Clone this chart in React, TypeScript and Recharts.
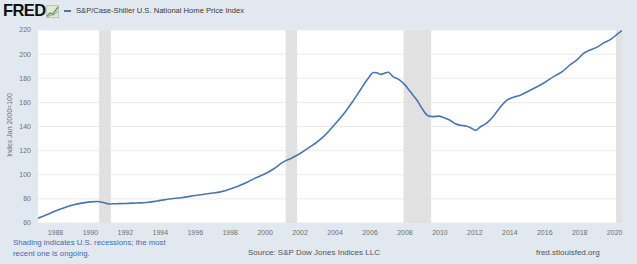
import React from 'react';
import { LineChart, Line, XAxis, YAxis, CartesianGrid, ReferenceArea } from 'recharts';

// year (decimal) and index value
const years = [
  1987.0, 1987.5, 1988.0, 1988.5, 1989.0, 1989.5, 1990.0, 1990.4, 1990.75, 1991.1,
  1991.5, 1992.0, 1992.6, 1993.2, 1993.8, 1994.5, 1995.2, 1996.0, 1996.8, 1997.5,
  1998.0, 1998.4, 1999.0, 1999.4, 2000.0, 2000.5, 2001.0, 2001.5, 2002.0, 2002.5,
  2003.0, 2003.4, 2004.0, 2004.6, 2005.0, 2005.5, 2005.9, 2006.2, 2006.4, 2006.6,
  2006.9, 2007.05, 2007.3, 2007.7, 2008.0, 2008.3, 2008.7, 2009.0, 2009.3, 2009.6,
  2009.9, 2010.2, 2010.35, 2010.6, 2010.85, 2011.2, 2011.5, 2011.8, 2012.05, 2012.3,
  2012.65, 2013.0, 2013.4, 2013.8, 2014.2, 2014.6, 2015.0, 2015.5, 2016.0, 2016.5,
  2017.0, 2017.45, 2017.9, 2018.2, 2018.6, 2019.0, 2019.4, 2019.8, 2020.1, 2020.42,
];
const index = [
  64, 66.8, 70, 72.6, 75, 76.5, 77.5, 77.8, 77, 75.8,
  76, 76.2, 76.6, 77, 78.2, 79.9, 81, 82.8, 84.5, 86,
  88.2, 90.3, 94, 97, 100.8, 105, 110.3, 113.7, 117.6, 122.5,
  127.5, 132.5, 142, 152.5, 160.5, 171.5, 180, 184.8, 184.6, 183.2,
  184.5, 185, 181.5, 178.5, 174.5, 169, 161.5, 154.5, 149.2, 148.2,
  148.6, 147.5, 146.6, 145, 142.5, 141, 140.4, 138.6, 136.8, 139.5,
  142.5, 147.5, 155, 161.5, 164.3, 166, 168.8, 172.5, 176.5, 181.3,
  185.5, 191, 196, 200.5, 203.5, 205.8, 209.5, 212.5, 216, 219.5,
];

const recessions = [
  [1990.5, 1991.17],
  [2001.17, 2001.83],
  [2007.92, 2009.5],
  [2020.08, 2020.42],
];

const xTicks = [1988, 1990, 1992, 1994, 1996, 1998, 2000, 2002, 2004, 2006, 2008, 2010, 2012, 2014, 2016, 2018, 2020];
const yTicks = [60, 80, 100, 120, 140, 160, 180, 200, 220];

const data = years.map((t, i) => ({ t, v: index[i] }));

const font = '"Liberation Sans", Arial, sans-serif';

export default function App() {
  return (
    <div style={{ position: 'absolute', left: 0, top: 0, width: 637, height: 264, background: '#e1e8ef', fontFamily: font }}>
      <div style={{ position: 'absolute', left: 3, top: 1, fontSize: 16.5, fontWeight: 'bold', color: '#111', letterSpacing: -0.6 }}>FRED</div>
      <svg style={{ position: 'absolute', left: 46, top: 5 }} width={13} height={13}>
        <rect x={0.5} y={0.5} width={12} height={12} fill="#dfe9d6" stroke="#b9c9b0" />
        <polyline points="1,11 4,8 7,9 12,2" fill="none" stroke="#6f9a4c" strokeWidth={1.4} />
        <polyline points="1,12 5,10 8,10 12,6" fill="none" stroke="#7e9cc4" strokeWidth={1} />
      </svg>
      <div style={{ position: 'absolute', left: 64, top: 10, width: 7, height: 1.5, background: '#4a76ae' }} />
      <div style={{ position: 'absolute', left: 76, top: 6, fontSize: 7.6, color: '#3a3a3a' }}>
        S&amp;P/Case-Shiller U.S. National Home Price Index
      </div>

      <LineChart width={637} height={264} data={data} margin={{ top: 30, right: 15, bottom: 0, left: 0 }}>
        <CartesianGrid vertical={false} stroke="#ebebeb" fill="#ffffff" />
        {recessions.map(([a, b], i) => (
          <ReferenceArea key={i} x1={a} x2={b} y1={60} y2={220} fill="#e1e1e1" fillOpacity={1} stroke="none" ifOverflow="hidden" />
        ))}
        <XAxis
          dataKey="t"
          type="number"
          domain={[1987, 2020.42]}
          ticks={xTicks}
          allowDataOverflow
          height={41}
          tickLine={false}
          axisLine={false}
          tickSize={0}
          tickMargin={7}
          tick={{ fontSize: 7, fill: '#707070', fontFamily: font }}
        />
        <YAxis
          type="number"
          domain={[60, 220]}
          ticks={yTicks}
          width={38}
          tickLine={false}
          axisLine={false}
          tickSize={0}
          tickMargin={7}
          tick={{ fontSize: 7, fill: '#707070', fontFamily: font }}
        />
        <Line type="monotone" dataKey="v" stroke="#4a76ae" strokeWidth={1.6} dot={false} isAnimationActive={false} />
      </LineChart>

      <div style={{ position: 'absolute', left: 1, top: 125, width: 16, height: 0 }}>
        <div style={{ position: 'absolute', left: 8, top: 0, transform: 'translate(-50%, -50%) rotate(-90deg)', whiteSpace: 'nowrap', fontSize: 7, color: '#707070' }}>
          Index Jan 2000=100
        </div>
      </div>

      <div style={{ position: 'absolute', left: 13, top: 237, fontSize: 7.8, lineHeight: '11px', color: '#3e6cb0' }}>
        Shading indicates U.S. recessions; the most<br />recent one is ongoing.
      </div>
      <div style={{ position: 'absolute', left: 248, top: 248, fontSize: 8, color: '#555' }}>
        Source: S&amp;P Dow Jones Indices LLC
      </div>
      <div style={{ position: 'absolute', left: 536, top: 248, fontSize: 8, color: '#555' }}>
        fred.stlouisfed.org
      </div>
    </div>
  );
}
